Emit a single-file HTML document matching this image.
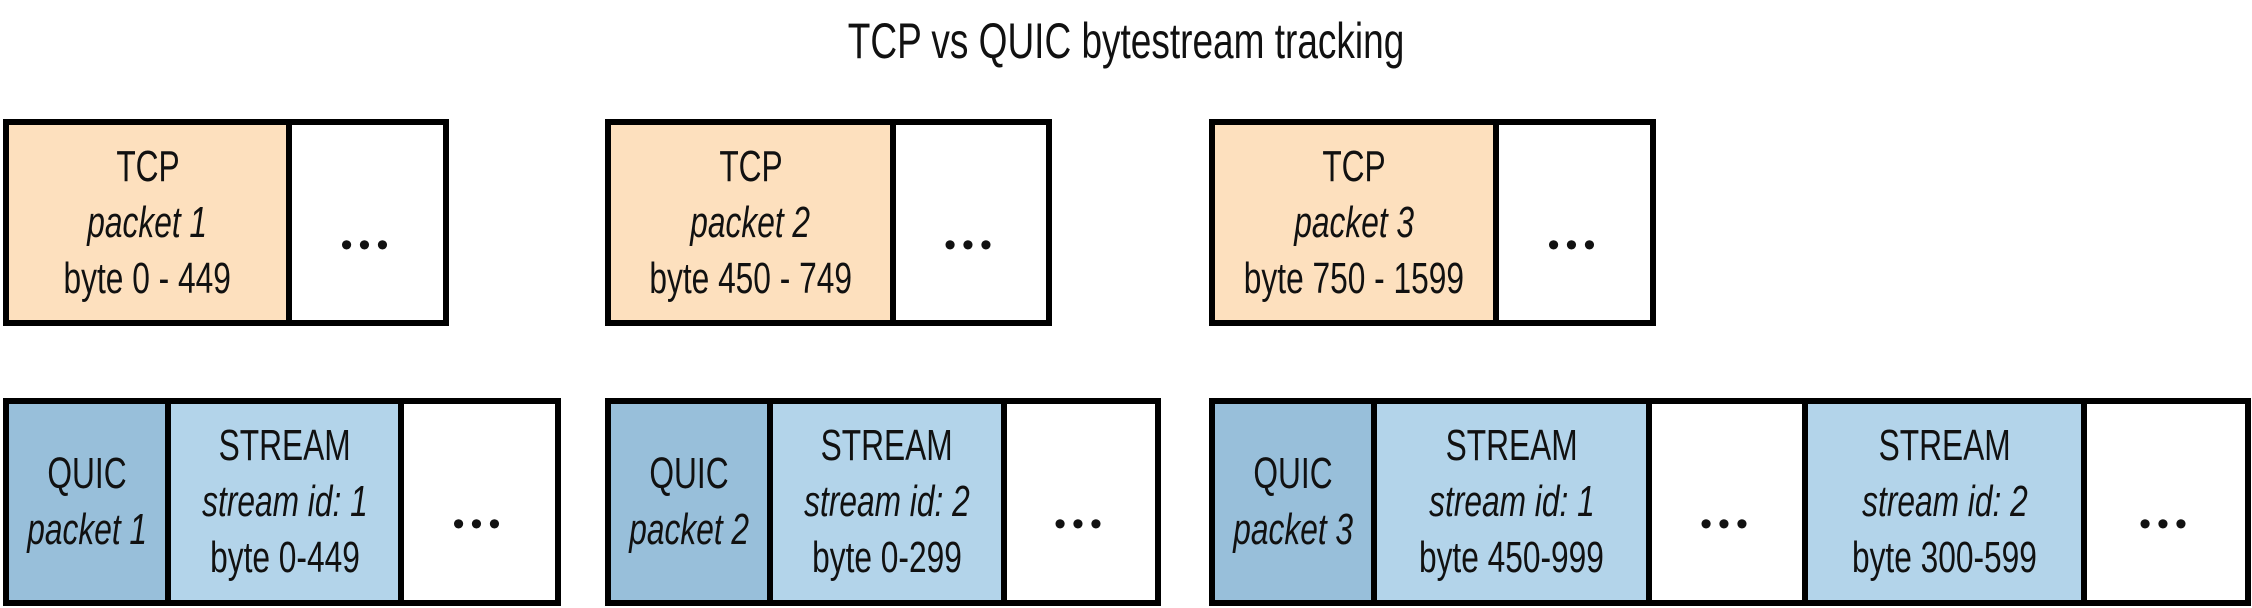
<!DOCTYPE html>
<html><head><meta charset="utf-8"><style>
html,body{margin:0;padding:0;background:#fff;width:2252px;height:608px;overflow:hidden;position:relative;font-family:"Liberation Sans",sans-serif;color:#111}
.c{position:absolute;box-sizing:border-box;border:6px solid #000;display:flex;flex-direction:column;align-items:center;justify-content:center;text-align:center}
.c span{display:block;font-size:44px;line-height:56px;transform:scaleX(.72);white-space:nowrap}
.c i{font-style:italic}
.o{background:#fde0be}.d{background:#98bfda}.l{background:#b3d4ea}.w{background:#fff}
.dots span{font-size:34px;letter-spacing:6px;line-height:40px;margin-top:44px;transform:none}
.t{position:absolute;left:0;width:2252px;top:12px;text-align:center;font-size:50px}
.t span{display:inline-block;transform:scaleX(.74)}
</style></head><body>
<div class="t"><span>TCP vs QUIC bytestream tracking</span></div>

<div class="c o" style="left:3px;top:119px;width:289px;height:207px"><span>TCP</span><span><i>packet 1</i></span><span>byte 0 - 449</span></div>
<div class="c w dots" style="left:286px;top:119px;width:163px;height:207px"><span>•••</span></div>

<div class="c o" style="left:605px;top:119px;width:291px;height:207px"><span>TCP</span><span><i>packet 2</i></span><span>byte 450 - 749</span></div>
<div class="c w dots" style="left:890px;top:119px;width:162px;height:207px"><span>•••</span></div>

<div class="c o" style="left:1209px;top:119px;width:290px;height:207px"><span>TCP</span><span><i>packet 3</i></span><span>byte 750 - 1599</span></div>
<div class="c w dots" style="left:1493px;top:119px;width:163px;height:207px"><span>•••</span></div>

<div class="c d" style="left:3px;top:398px;width:168px;height:208px"><span>QUIC</span><span><i>packet 1</i></span></div>
<div class="c l" style="left:165px;top:398px;width:239px;height:208px"><span>STREAM</span><span><i>stream id: 1</i></span><span>byte 0-449</span></div>
<div class="c w dots" style="left:398px;top:398px;width:163px;height:208px"><span>•••</span></div>

<div class="c d" style="left:605px;top:398px;width:168px;height:208px"><span>QUIC</span><span><i>packet 2</i></span></div>
<div class="c l" style="left:767px;top:398px;width:240px;height:208px"><span>STREAM</span><span><i>stream id: 2</i></span><span>byte 0-299</span></div>
<div class="c w dots" style="left:1001px;top:398px;width:160px;height:208px"><span>•••</span></div>

<div class="c d" style="left:1209px;top:398px;width:168px;height:208px"><span>QUIC</span><span><i>packet 3</i></span></div>
<div class="c l" style="left:1371px;top:398px;width:281px;height:208px"><span>STREAM</span><span><i>stream id: 1</i></span><span>byte 450-999</span></div>
<div class="c w dots" style="left:1646px;top:398px;width:162px;height:208px"><span>•••</span></div>
<div class="c l" style="left:1802px;top:398px;width:285px;height:208px"><span>STREAM</span><span><i>stream id: 2</i></span><span>byte 300-599</span></div>
<div class="c w dots" style="left:2081px;top:398px;width:170px;height:208px"><span>•••</span></div>
</body></html>
